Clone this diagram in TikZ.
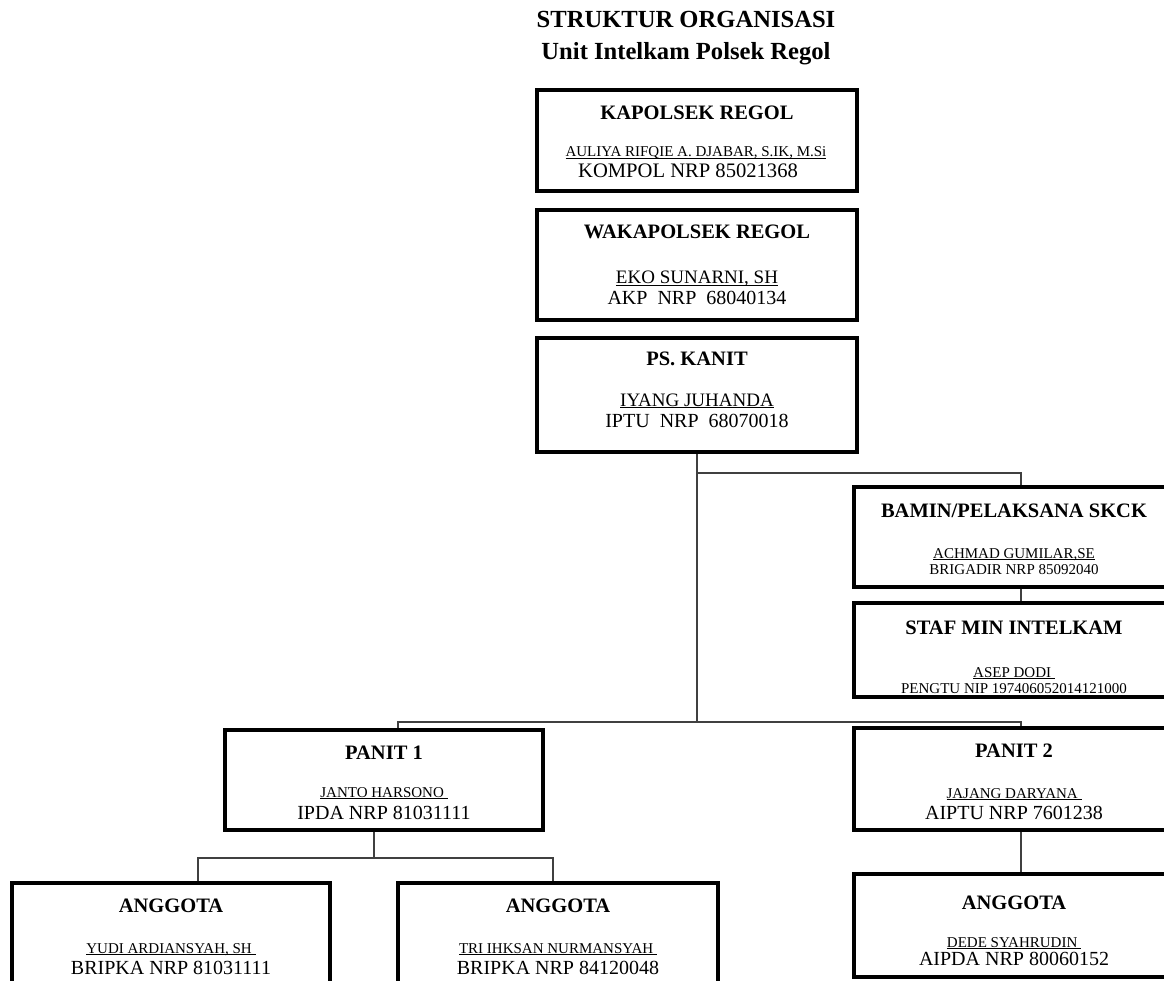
\documentclass[tikz,border=0pt]{standalone}
\usepackage{fontspec}
\setmainfont{Liberation Serif}
\newcommand{\nameline}[1]{\setbox0\hbox{#1}\rlap{\usebox0}\rule[-2pt]{\wd0}{0.7pt}}

\begin{document}
\begin{tikzpicture}[x=1pt,y=-1pt,
  unit/.style={draw, line width=3.5pt, minimum width=320pt, inner sep=0pt},
  heading/.style={anchor=base, font=\fontsize{20.5}{24}\selectfont\bfseries},
  person/.style={anchor=base, font=\fontsize{15}{18}\selectfont},
  rank/.style={anchor=base, font=\fontsize{20}{24}\selectfont},
  smallrank/.style={anchor=base, font=\fontsize{15}{18}\selectfont},
  link/.style={line width=1.3pt, draw=black!75}]
  \useasboundingbox (0,0) rectangle (1164,981);
  \clip (0,0) rectangle (1164,981);

  \node[anchor=base, font=\fontsize{24.6}{28}\selectfont\bfseries] (title) at (686,28) {STRUKTUR ORGANISASI};
  \node[anchor=base, font=\fontsize{24.6}{28}\selectfont\bfseries] (subtitle) at (686,60) {Unit Intelkam Polsek Regol};

  % boxes
  \node[unit, minimum height=101pt] (kap) at (697,140.5) {};
  \node[unit, minimum height=110pt] (wak) at (697,265) {};
  \node[unit, minimum height=114pt] (kanit) at (697,395) {};
  \node[unit, minimum height=100pt] (bamin) at (1014,537) {};
  \node[unit, minimum height=94pt] (staf) at (1014,650) {};
  \node[unit, minimum width=318pt, minimum height=100pt] (panit1) at (384,780) {};
  \node[unit, minimum height=102pt] (panit2) at (1014,779) {};
  \node[unit, minimum width=318pt, minimum height=120pt] (ang1) at (171,943) {};
  \node[unit, minimum height=120pt] (ang2) at (558,943) {};
  \node[unit, minimum height=103pt] (ang3) at (1014,925.5) {};

  \node[heading] (kapT) at (697,120) {KAPOLSEK REGOL};
  \node[person] (kapN) at (696,157) {\nameline{AULIYA RIFQIE A. DJABAR, S.IK, M.Si}};
  \node[rank, font=\fontsize{20.6}{24}\selectfont] (kapR) at (688,178) {KOMPOL NRP 85021368};

  \node[heading] (wakT) at (697,239) {WAKAPOLSEK REGOL};
  \node[person, font=\fontsize{19}{22}\selectfont] (wakN) at (697,284) {\nameline{EKO SUNARNI, SH}};
  \node[rank] (wakR) at (697,305) {AKP\ \ NRP\ \ 68040134};

  \node[heading] (kanitT) at (697,365) {PS. KANIT};
  \node[person, font=\fontsize{19}{22}\selectfont] (kanitN) at (697,406) {\nameline{IYANG JUHANDA}};
  \node[rank] (kanitR) at (697,427) {IPTU\ \ NRP\ \ 68070018};

  \node[heading] (baminT) at (1014,517) {BAMIN/PELAKSANA SKCK};
  \node[person] (baminN) at (1014,558) {\nameline{ACHMAD GUMILAR,SE}};
  \node[smallrank] (baminR) at (1014,574) {BRIGADIR NRP 85092040};

  \node[heading] (stafT) at (1014,634) {STAF MIN INTELKAM};
  \node[person] (stafN) at (1014,677) {\nameline{ASEP DODI\ }};
  \node[smallrank] (stafR) at (1014,693) {PENGTU NIP 197406052014121000};

  \node[heading] (panit1T) at (384,759) {PANIT 1};
  \node[person] (panit1N) at (384,797) {\nameline{JANTO HARSONO\ }};
  \node[rank] (panit1R) at (384,819) {IPDA NRP 81031111};

  \node[heading] (panit2T) at (1014,757) {PANIT 2};
  \node[person] (panit2N) at (1014,798) {\nameline{JAJANG DARYANA\ }};
  \node[rank] (panit2R) at (1014,819) {AIPTU NRP 7601238};

  \node[heading] (ang1T) at (171,912) {ANGGOTA};
  \node[person] (ang1N) at (171,953) {\nameline{YUDI ARDIANSYAH, SH\ }};
  \node[rank] (ang1R) at (171,974) {BRIPKA NRP 81031111};

  \node[heading] (ang2T) at (558,912) {ANGGOTA};
  \node[person] (ang2N) at (558,953) {\nameline{TRI IHKSAN NURMANSYAH\ }};
  \node[rank] (ang2R) at (558,974) {BRIPKA NRP 84120048};

  \node[heading] (ang3T) at (1014,909) {ANGGOTA};
  \node[person] (ang3N) at (1014,947) {\nameline{DEDE SYAHRUDIN\ }};
  \node[rank] (ang3R) at (1014,965) {AIPDA NRP 80060152};

  % connectors
  \coordinate (hub1) at (697,473);
  \coordinate (hub2) at (697,722);
  \coordinate (hub3) at (374,858);
  \coordinate (rcol) at (1021,0);
  \coordinate (p1in) at (398,722);
  \coordinate (a1in) at (198,0);
  \coordinate (a2in) at (553,0);

  \draw[link] (kanit.south) -- (hub2);
  \draw[link] (hub1) -| (bamin.north -| rcol);
  \draw[link] (bamin.south -| rcol) -- (staf.north -| rcol);
  \draw[link] (panit1.north -| p1in) -- (p1in) -| (panit2.north -| rcol);
  \draw[link] (panit1.south -| hub3) -- (hub3);
  \draw[link] (ang1.north -| a1in) -- (a1in |- hub3) -- (a2in |- hub3) -- (ang2.north -| a2in);
  \draw[link] (panit2.south -| rcol) -- (ang3.north -| rcol);
\end{tikzpicture}
\end{document}
